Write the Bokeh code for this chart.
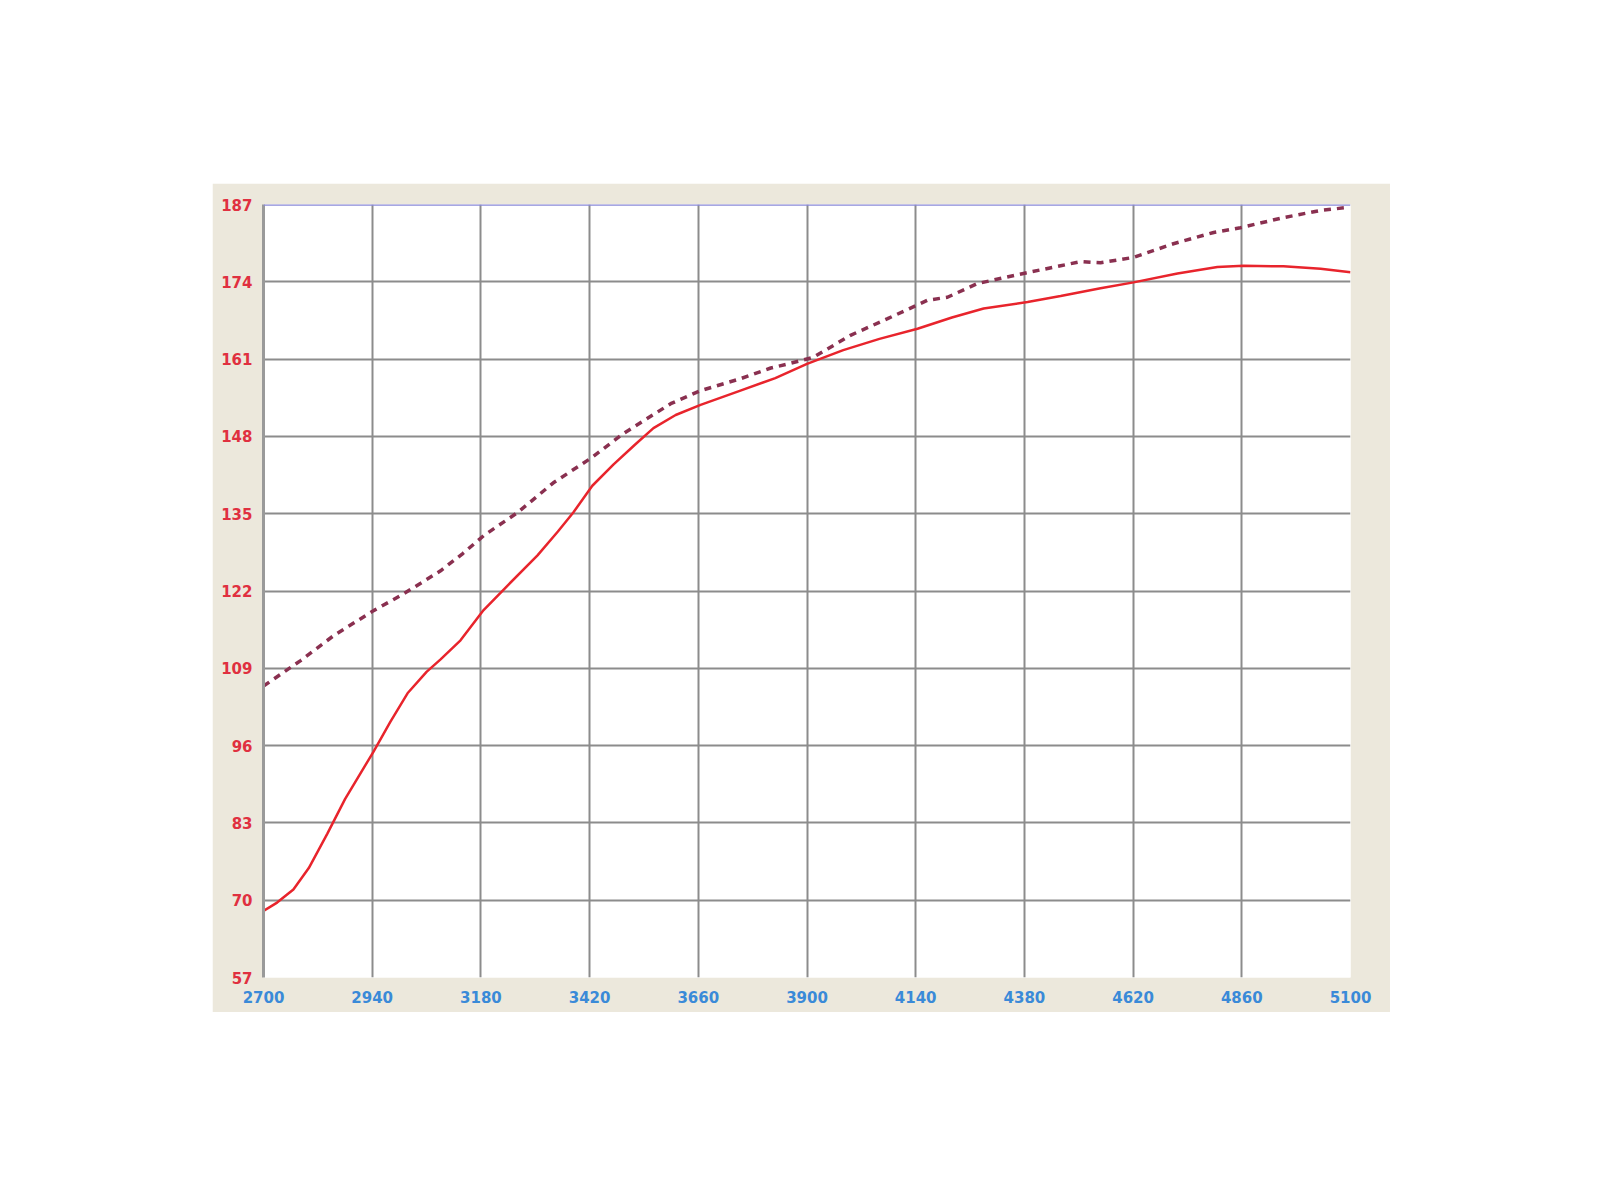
from bokeh.plotting import figure
from bokeh.models import Range1d, FixedTicker, Span, Spacer
from bokeh.layouts import column, row
from bokeh.embed import file_html
from bokeh.resources import INLINE

# Data
x_ticks = [2700, 2940, 3180, 3420, 3660, 3900, 4140, 4380, 4620, 4860, 5100]
y_ticks = [57, 70, 83, 96, 109, 122, 135, 148, 161, 174, 187]

solid_rpm = [2700, 2730, 2766, 2800, 2841, 2880, 2943, 2980, 3018, 3060, 3091, 3135,
             3186, 3240, 3305, 3350, 3384, 3426, 3473, 3520, 3561, 3610, 3665, 3753,
             3830, 3900, 3980, 4060, 4144, 4220, 4290, 4387, 4460, 4548, 4621, 4718,
             4806, 4864, 4952, 5034, 5100]
solid_val = [68.2, 69.6, 71.8, 75.4, 81.2, 87.0, 95.0, 100.0, 104.8, 108.4, 110.5, 113.7,
             118.8, 123.0, 128.0, 132.0, 135.2, 139.7, 143.3, 146.6, 149.4, 151.6, 153.3, 155.7,
             157.8, 160.2, 162.5, 164.4, 166.1, 168.0, 169.5, 170.6, 171.6, 172.9, 173.9, 175.4,
             176.5, 176.7, 176.6, 176.2, 175.6]

dashed_rpm = [2700, 2782, 2855, 2943, 3002, 3047, 3091, 3140, 3186, 3261, 3340, 3426,
              3495, 3599, 3665, 3753, 3820, 3864, 3914, 3996, 4078, 4166, 4210, 4276,
              4378, 4460, 4504, 4548, 4621, 4709, 4798, 4857, 4952, 5034, 5093]
dashed_val = [106.0, 110.3, 114.5, 118.7, 121.2, 123.3, 125.4, 128.3, 131.3, 135.2, 140.2, 144.5,
              148.5, 153.5, 155.7, 157.7, 159.5, 160.3, 161.3, 165.0, 167.8, 170.9, 171.4, 173.7,
              175.4, 176.7, 177.4, 177.2, 178.1, 180.4, 182.3, 183.1, 184.8, 186.0, 186.5]

p = figure(width=1178, height=829, output_backend="svg", toolbar_location=None,
           x_range=Range1d(2700, 5100), y_range=Range1d(57, 187),
           min_border_left=51, min_border_right=40, min_border_top=21, min_border_bottom=35)
p.border_fill_color = "#ece8dc"
p.background_fill_color = "white"
p.outline_line_color = None

# grid
p.xgrid.ticker = FixedTicker(ticks=x_ticks[1:-1])
p.ygrid.ticker = FixedTicker(ticks=y_ticks[1:-1])
for g in (p.xgrid, p.ygrid):
    g.grid_line_color = "#8c8c8c"
    g.grid_line_width = 2
    g.grid_line_alpha = 1.0

p.add_layout(Span(location=187, dimension="width", line_color="#8a8ad8", line_width=2.5))

# axes
p.xaxis.ticker = FixedTicker(ticks=x_ticks)
p.yaxis.ticker = FixedTicker(ticks=y_ticks)
p.xaxis.axis_line_color = None
p.yaxis.axis_line_color = "#9a9a9a"
p.yaxis.axis_line_width = 3
for ax in (p.xaxis, p.yaxis):
    ax.major_tick_line_color = None
    ax.minor_tick_line_color = None
    ax.major_label_text_font = "DejaVu Sans"
    ax.major_label_text_font_style = "bold"
    ax.major_label_text_font_size = "15px"
p.yaxis.major_label_text_color = "#e03040"
p.xaxis.major_label_text_color = "#3a8ad8"
p.yaxis.major_label_standoff = 5
p.xaxis.major_label_standoff = 7

p.line(solid_rpm, solid_val, line_color="#e8242c", line_width=2.5)
p.line(dashed_rpm, dashed_val, line_color="#8a3050", line_width=3.5, line_dash="7 6")

layout = column(Spacer(height=183), row(Spacer(width=212), p))

open("out.html", "w").write(file_html(layout, INLINE))
